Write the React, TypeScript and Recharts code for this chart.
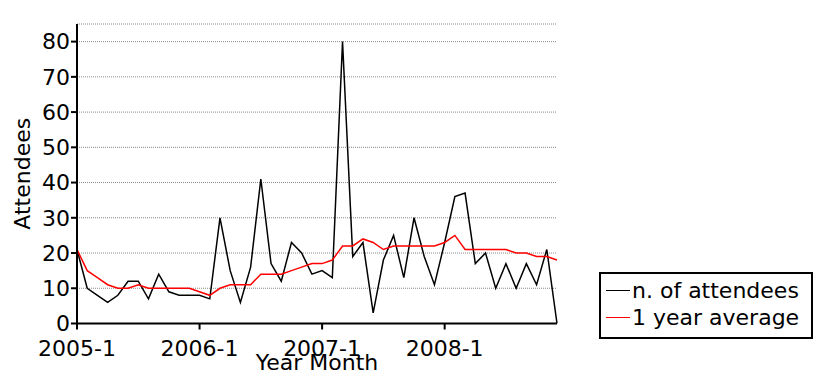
import React from 'react';
import { LineChart, Line, XAxis, YAxis, CartesianGrid } from 'recharts';

const months = [
  '2005-1','2005-2','2005-3','2005-4','2005-5','2005-6','2005-7','2005-8','2005-9','2005-10','2005-11','2005-12',
  '2006-1','2006-2','2006-3','2006-4','2006-5','2006-6','2006-7','2006-8','2006-9','2006-10','2006-11','2006-12',
  '2007-1','2007-2','2007-3','2007-4','2007-5','2007-6','2007-7','2007-8','2007-9','2007-10','2007-11','2007-12',
  '2008-1','2008-2','2008-3','2008-4','2008-5','2008-6','2008-7','2008-8','2008-9','2008-10','2008-11','2008-12',
];

const attendees = [
  21, 10, 8, 6, 8, 12, 12, 7, 14, 9, 8, 8,
  8, 7, 30, 15, 6, 16, 41, 17, 12, 23, 20, 14,
  15, 13, 80, 19, 23, 3, 18, 25, 13, 30, 19, 11,
  23, 36, 37, 17, 20, 10, 17, 10, 17, 11, 21, 0,
];

const yearAverage = [
  21, 15, 13, 11, 10, 10, 11, 10, 10, 10, 10, 10,
  9, 8, 10, 11, 11, 11, 14, 14, 14, 15, 16, 17,
  17, 18, 22, 22, 24, 23, 21, 22, 22, 22, 22, 22,
  23, 25, 21, 21, 21, 21, 21, 20, 20, 19, 19, 18,
];

const yTicks = [0, 10, 20, 30, 40, 50, 60, 70, 80];
const seriesNames = ['n. of attendees', '1 year average'];
const seriesColors = ['#000000', '#ff0000'];

const data = months.map((m, i) => ({ month: m, attendees: attendees[i], avg: yearAverage[i] }));

const FONT = '"DejaVu Sans", sans-serif';

const LegendBox = () => (
  <div
    style={{
      position: 'absolute',
      left: 599,
      top: 272,
      border: '2px solid #000',
      background: '#fff',
      width: 210,
      height: 60,
      boxSizing: 'content-box',
      fontFamily: FONT,
      fontSize: 22,
      color: '#000',
      lineHeight: '26px',
      paddingTop: 3,
    }}
  >
    {seriesNames.map((n, i) => (
      <div key={n} style={{ display: 'flex', alignItems: 'center', height: 27, whiteSpace: 'nowrap' }}>
        <span style={{ display: 'inline-block', width: 24, height: 1, background: seriesColors[i], marginLeft: 5, marginRight: 2 }} />
        <span>{n}</span>
      </div>
    ))}
  </div>
);

export default function App() {
  return (
    <div style={{ position: 'absolute', left: 0, top: 0, width: 819, height: 382, background: '#fff' }}>
      <LineChart
        width={819}
        height={382}
        data={data}
        margin={{ top: 24, right: 262, left: 0, bottom: 0 }}
      >
        <CartesianGrid horizontal vertical={false} stroke="#888" strokeDasharray="1 1" />
        <XAxis
          dataKey="month"
          interval={11}
          height={58.5}
          axisLine={{ stroke: '#000', strokeWidth: 2 }}
          tickLine={{ stroke: '#000', strokeWidth: 2 }}
          tickSize={6}
          tickMargin={11}
          tick={{ fill: '#000', fontSize: 22, fontFamily: FONT }}
          label={{
            content: (props: any) => {
              const vb = props.viewBox || { x: 77, y: 323.5, width: 480 };
              return (
                <text x={vb.x + vb.width / 2} y={vb.y + 46} textAnchor="middle" fill="#000" fontSize={22} fontFamily={FONT}>
                  Year Month
                </text>
              );
            },
          }}
        />
        <YAxis
          width={77}
          domain={[0, 85]}
          ticks={yTicks}
          interval={0}
          allowDataOverflow
          axisLine={{ stroke: '#000', strokeWidth: 2 }}
          tickLine={{ stroke: '#000', strokeWidth: 2 }}
          tickSize={6}
          tickMargin={1}
          tick={{ fill: '#000', fontSize: 22, fontFamily: FONT }}
          label={{
            content: (props: any) => {
              const vb = props.viewBox || { x: 0, y: 24, width: 77, height: 299.5 };
              const cx = vb.x + 30;
              const cy = vb.y + vb.height / 2;
              return (
                <text x={cx} y={cy} textAnchor="middle" fill="#000" fontSize={22} fontFamily={FONT} transform={`rotate(-90, ${cx}, ${cy})`}>
                  Attendees
                </text>
              );
            },
          }}
        />
        <Line type="linear" dataKey="attendees" name={seriesNames[0]} stroke={seriesColors[0]} strokeWidth={1.5} dot={false} isAnimationActive={false} />
        <Line type="linear" dataKey="avg" name={seriesNames[1]} stroke={seriesColors[1]} strokeWidth={1.5} dot={false} isAnimationActive={false} />
      </LineChart>
      <LegendBox />
    </div>
  );
}
